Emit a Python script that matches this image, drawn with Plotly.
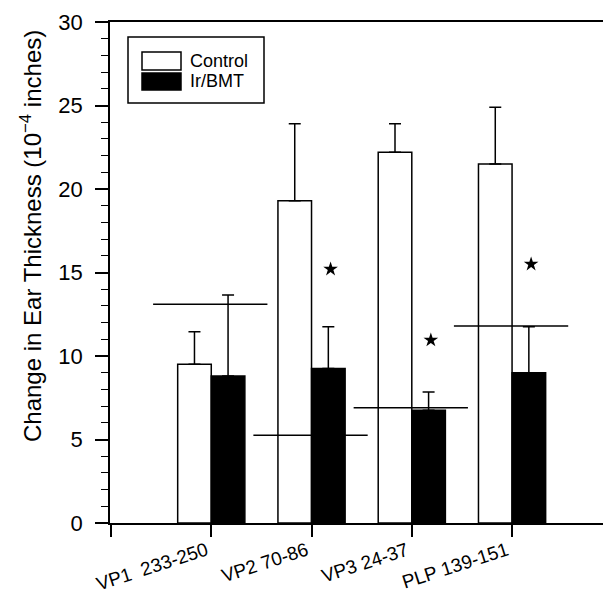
import plotly.graph_objects as go

# ---- data ----
categories = ["VP1  233-250", "VP2 70-86", "VP3 24-37", "PLP 139-151"]
positions = [1, 2, 3, 4]
control_mean = [9.5, 19.3, 22.2, 21.5]
control_err = [1.95, 4.6, 1.7, 3.4]
irbmt_mean = [8.8, 9.25, 6.75, 9.0]
irbmt_err = [4.85, 2.5, 1.1, 2.75]
baseline = [13.1, 5.25, 6.9, 11.8]
star_groups = [2, 3, 4]
star_y = [15.2, 10.95, 15.5]

FONT = "Liberation Sans, Arial, sans-serif"
W, H = 603, 596
L, R, T, B = 110, 0, 22, 73
PW, PH = W - L - R, H - T - B

def px(x):
    return (x - L) / PW

def py(y):
    return (H - B - y) / PH

fig = go.Figure()

fig.add_trace(go.Bar(
    x=positions, y=control_mean, name="Control",
    offset=-0.335, width=0.335,
    marker=dict(color="white", line=dict(color="black", width=1.5)),
    error_y=dict(type="data", symmetric=False, array=control_err,
                 arrayminus=[0] * 4, color="black", thickness=1.5, width=6),
    showlegend=False,
))
fig.add_trace(go.Bar(
    x=positions, y=irbmt_mean, name="Ir/BMT",
    offset=0, width=0.335,
    marker=dict(color="black", line=dict(color="black", width=1.5)),
    error_y=dict(type="data", symmetric=False, array=irbmt_err,
                 arrayminus=[0] * 4, color="black", thickness=1.5, width=6),
    showlegend=False,
))

# baseline lines per group
bx, by = [], []
for p, v in zip(positions, baseline):
    bx += [p - 0.58, p + 0.56, None]
    by += [v, v, None]
fig.add_trace(go.Scatter(x=bx, y=by, mode="lines",
                         line=dict(color="black", width=1.5),
                         showlegend=False, hoverinfo="skip"))

# significance stars
fig.add_trace(go.Scatter(x=[g + 0.19 for g in star_groups], y=star_y,
                         mode="markers",
                         marker=dict(symbol="star", size=11, color="black"),
                         showlegend=False))

shapes = [
    dict(type="rect", xref="paper", yref="paper",
         x0=px(128), x1=px(264), y0=py(103), y1=py(37),
         line=dict(color="black", width=1.5), fillcolor="white", layer="above"),
    dict(type="rect", xref="paper", yref="paper",
         x0=px(142), x1=px(181), y0=py(70), y1=py(52),
         line=dict(color="black", width=1.5), fillcolor="white", layer="above"),
    dict(type="rect", xref="paper", yref="paper",
         x0=px(142), x1=px(181), y0=py(90), y1=py(73),
         line=dict(color="black", width=1.5), fillcolor="black", layer="above"),
]

annotations = [
    dict(text="Control", xref="paper", yref="paper", x=px(188), y=py(61),
         xanchor="left", yanchor="middle", showarrow=False,
         font=dict(size=18, color="black", family=FONT)),
    dict(text="Ir/BMT", xref="paper", yref="paper", x=px(188), y=py(81),
         xanchor="left", yanchor="middle", showarrow=False,
         font=dict(size=18, color="black", family=FONT)),
    dict(text="Change in Ear Thickness (10<sup>−4</sup> inches)",
         xref="paper", yref="paper", x=px(31), y=py(236),
         xanchor="center", yanchor="middle", textangle=-90, showarrow=False,
         font=dict(size=24, color="black", family=FONT)),
]

# category labels, rotated, right end at each tick
for p, c in zip(positions, categories):
    annotations.append(dict(
        text=c, xref="x", yref="paper", x=p + 0.02, y=py(536),
        xanchor="right", yanchor="top", textangle=-18, showarrow=False,
        font=dict(size=19, color="black", family=FONT)))

fig.update_layout(
    width=W, height=H,
    margin=dict(l=L, r=R, t=T, b=B),
    paper_bgcolor="white", plot_bgcolor="white",
    font=dict(family=FONT, color="black"),
    shapes=shapes, annotations=annotations,
    barmode="overlay",
)

fig.update_xaxes(
    range=[-0.01, 4.907],
    tickvals=[0] + positions, showticklabels=False,
    ticks="outside", ticklen=12, tickwidth=1.5, tickcolor="black",
    showline=True, linecolor="black", linewidth=1.5, mirror=True,
    showgrid=False, zeroline=False,
)
fig.update_yaxes(
    range=[0, 30], dtick=5, tick0=0,
    ticks="outside", ticklen=13, tickwidth=1.5, tickcolor="black",
    minor=dict(dtick=1, ticks="outside", ticklen=7, tickwidth=1.2, tickcolor="black"),
    showline=True, linecolor="black", linewidth=1.5,
    showgrid=False, zeroline=False,
    tickfont=dict(size=22, color="black", family=FONT),
    ticklabelstandoff=8,
)

fig.write_html("out.html",
               config={"displayModeBar": False},
               post_script="document.body.style.margin='0';"
                           "document.body.style.overflow='hidden';")
